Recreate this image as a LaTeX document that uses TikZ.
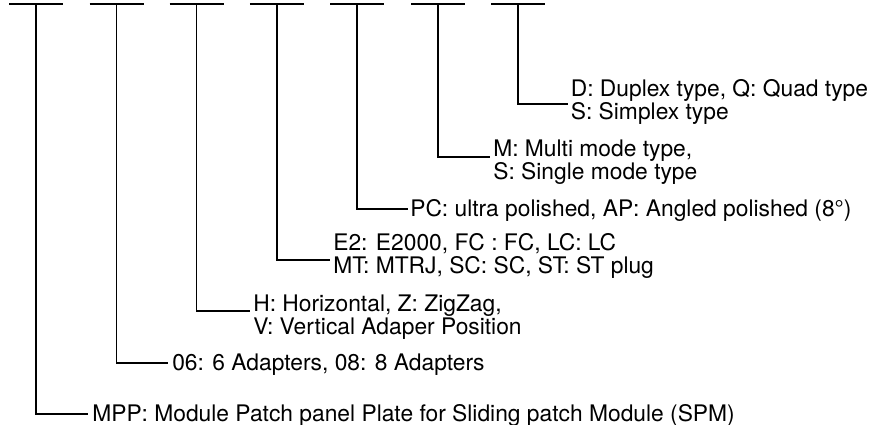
\documentclass[tikz,border=0pt]{standalone}
\usepackage{fontspec}
\setmainfont{TeX Gyre Heros}
\begin{document}
\begin{tikzpicture}[x=1pt,y=-1pt,line width=1.6pt,line join=miter,
  lbl/.style={anchor=base west,inner sep=0pt,align=left,font=\fontsize{22.8}{23}\selectfont}]
\useasboundingbox (0,0) rectangle (877,425);
% top bars
\foreach \i/\x in {1/36,2/116.5,3/196.5,4/276.8,5/357,6/438,7/518}{
  \coordinate (b\i) at (\x,4);
  \draw ([xshift=-27pt]b\i) -- ([xshift=27pt]b\i);
}
% labels (base anchor = baseline of the last line)
\node[lbl] (t1) at (91.5,421.7) {MPP: Module Patch panel Plate for Sliding patch Module (SPM)};
\node[lbl] (t2) at (171.5,370) {06: 6 Adapters, 08: 8 Adapters};
\node[lbl] (t3) at (252.5,334) {H: Horizontal, Z: ZigZag,\\V: Vertical Adaper Position};
\node[lbl] (t4) at (332.5,273.5) {E2: E2000, FC : FC, LC: LC\\MT: MTRJ, SC: SC, ST: ST plug};
\node[lbl] (t5) at (409.5,216) {PC: ultra polished, AP: Angled polished (8°)};
\node[lbl] (t6) at (492.5,179.8) {M: Multi mode type,\\S: Single mode type};
\node[lbl] (t7) at (570,119.5) {D: Duplex type, Q: Quad type\\S: Simplex type};
% connector ends
\coordinate (e1) at (88,414);
\coordinate (e2) at (168,362.7);
\coordinate (e3) at (250,311);
\coordinate (e4) at (330,260);
\coordinate (e5) at (408,209);
\coordinate (e6) at (490,157);
\coordinate (e7) at (568.3,104.3);
\foreach \i in {1,...,7}{
  \draw (b\i) |- (e\i);
}
\end{tikzpicture}
\end{document}
